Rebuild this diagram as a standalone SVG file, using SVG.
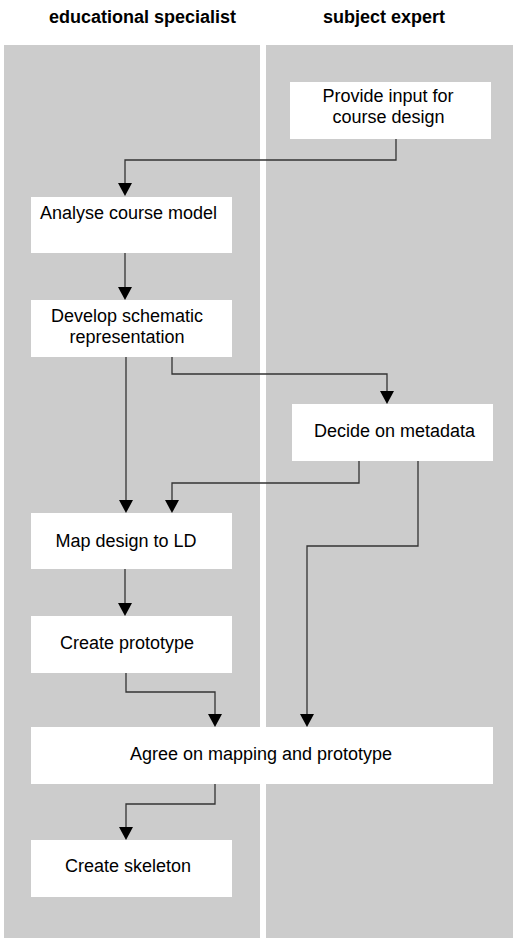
<svg xmlns="http://www.w3.org/2000/svg" width="513" height="938" viewBox="0 0 513 938">
<style>
.lane{fill:#cccccc}
.box{fill:#ffffff}
.t{font-family:"Liberation Sans",Arial,sans-serif;font-size:18px;fill:#000}
.h{font-family:"Liberation Sans",Arial,sans-serif;font-size:18px;font-weight:bold;fill:#000}
.c{fill:none;stroke:#333333;stroke-width:1.3}
.a{fill:#000}
</style>
<rect width="513" height="938" fill="#ffffff"/>
<g id="lane-educational">
<rect class="lane" x="4" y="45" width="256" height="893"/>
<text class="h" x="142.5" y="23" text-anchor="middle">educational specialist</text>
</g>
<g id="lane-subject">
<rect class="lane" x="266" y="45" width="247" height="893"/>
<text class="h" x="384" y="23" text-anchor="middle">subject expert</text>
</g>
<g id="connectors">
<path class="c" d="M396,139 V160 H125 V184"/>
<path class="a" d="M118,183 L132,183 L125,196 Z"/>
<path class="c" d="M125,253 V288"/>
<path class="a" d="M118,287 L132,287 L125,300 Z"/>
<path class="c" d="M126,357 V501"/>
<path class="a" d="M119,500 L133,500 L126,513 Z"/>
<path class="c" d="M172,357 V374 H387 V392"/>
<path class="a" d="M380,391 L394,391 L387,404 Z"/>
<path class="c" d="M359,461 V483 H172 V501"/>
<path class="a" d="M165,500 L179,500 L172,513 Z"/>
<path class="c" d="M418,461 V546 H307 V715"/>
<path class="a" d="M300,714 L314,714 L307,727 Z"/>
<path class="c" d="M125,569 V604"/>
<path class="a" d="M118,603 L132,603 L125,616 Z"/>
<path class="c" d="M126,673 V692 H215 V715"/>
<path class="a" d="M208,714 L222,714 L215,727 Z"/>
<path class="c" d="M215,784 V804 H126 V828"/>
<path class="a" d="M119,827 L133,827 L126,840 Z"/>
</g>
<g id="provide-input">
<rect class="box" x="290" y="82" width="201" height="57"/>
<text class="t" x="388" y="102" text-anchor="middle">Provide input for</text>
<text class="t" x="388.5" y="123" text-anchor="middle">course design</text>
</g>
<g id="analyse-course-model">
<rect class="box" x="31" y="197" width="201" height="56"/>
<text class="t" x="40" y="219">Analyse course model</text>
</g>
<g id="develop-schematic">
<rect class="box" x="31" y="300" width="201" height="57"/>
<text class="t" x="127" y="322" text-anchor="middle">Develop schematic</text>
<text class="t" x="127" y="343" text-anchor="middle">representation</text>
</g>
<g id="decide-metadata">
<rect class="box" x="292" y="404" width="201" height="57"/>
<text class="t" x="394.5" y="437" text-anchor="middle">Decide on metadata</text>
</g>
<g id="map-design">
<rect class="box" x="31" y="513" width="201" height="56"/>
<text class="t" x="126" y="547" text-anchor="middle">Map design to LD</text>
</g>
<g id="create-prototype">
<rect class="box" x="31" y="616" width="201" height="57"/>
<text class="t" x="127" y="649" text-anchor="middle">Create prototype</text>
</g>
<g id="agree">
<rect class="box" x="31" y="727" width="462" height="57"/>
<text class="t" x="261" y="760" text-anchor="middle">Agree on mapping and prototype</text>
</g>
<g id="create-skeleton">
<rect class="box" x="31" y="840" width="201" height="57"/>
<text class="t" x="128" y="872" text-anchor="middle">Create skeleton</text>
</g>
</svg>
